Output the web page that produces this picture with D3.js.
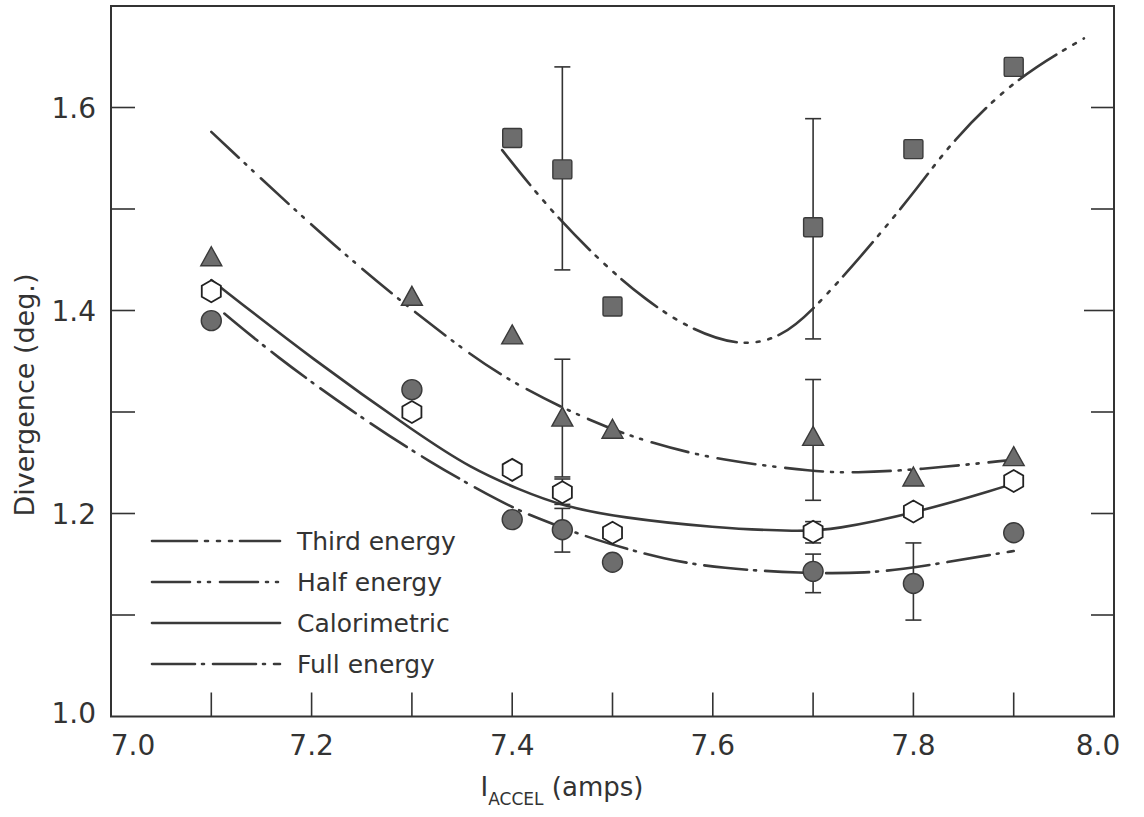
<!DOCTYPE html>
<html>
<head>
<meta charset="utf-8">
<script src="https://cdn.jsdelivr.net/npm/d3@7"></script>
<style>
	body { margin: 0; background: #fff; }
	text { font-family: 'DejaVu Sans', sans-serif; fill: #333; }
	.fit { fill: none; stroke: #3a3a3a; stroke-width: 2.6; stroke-linecap: round; }
	.err { stroke: #333; stroke-width: 1.6; }
</style>
</head>
<body>
<div id="svg"></div>
<script>
// values
var currents = [7.1, 7.3, 7.4, 7.45, 7.5, 7.7, 7.8, 7.9];
var thirdEnergy  = [null, null, 1.570, 1.539, 1.404, 1.482, 1.559, 1.640];
var halfEnergy   = [1.452, 1.413, 1.375, 1.294, 1.282, 1.275, 1.235, 1.255];
var calorimetric = [1.419, 1.300, 1.243, 1.221, 1.181, 1.182, 1.202, 1.232];
var fullEnergy   = [1.390, 1.322, 1.194, 1.184, 1.152, 1.143, 1.131, 1.181];

// error bars [x, low, high]
var thirdErr  = [[7.45, 1.440, 1.640], [7.7, 1.372, 1.589]];
var halfErr   = [[7.45, 1.236, 1.352], [7.7, 1.213, 1.332]];
var calorErr  = [[7.45, 1.209, 1.234], [7.7, 1.171, 1.192]];
var fullErr   = [[7.45, 1.162, 1.205], [7.7, 1.122, 1.160], [7.8, 1.095, 1.171]];

// hand drawn fit curves
var thirdFit = [[7.39,1.558],[7.435,1.502],[7.486,1.450],[7.533,1.410],[7.58,1.380],[7.63,1.364],
	[7.668,1.374],[7.697,1.397],[7.754,1.460],[7.807,1.524],[7.837,1.565],[7.9,1.628],[7.97,1.668]];
var halfFit = [[7.1,1.576],[7.225,1.460],[7.335,1.373],[7.395,1.331],[7.475,1.292],[7.535,1.270],
	[7.608,1.252],[7.705,1.241],[7.74,1.240],[7.804,1.243],[7.9,1.253]];
var calorFit = [[7.1,1.430],[7.202,1.351],[7.308,1.277],[7.358,1.245],[7.408,1.223],[7.451,1.207],
	[7.508,1.196],[7.6,1.186],[7.688,1.182],[7.72,1.184],[7.80,1.200],[7.887,1.225],[7.9,1.230]];
var fullFit = [[7.113,1.397],[7.163,1.356],[7.238,1.302],[7.318,1.250],[7.395,1.208],[7.421,1.197],
	[7.481,1.174],[7.555,1.154],[7.608,1.146],[7.688,1.141],[7.754,1.141],[7.804,1.147],[7.887,1.161],[7.9,1.163]];

var xLabels = [7.0, 7.2, 7.4, 7.6, 7.8, 8.0];
var yLabels = [1.0, 1.2, 1.4, 1.6];
var xMinor = [7.1, 7.2, 7.3, 7.4, 7.5, 7.6, 7.7, 7.8, 7.9];
var yMinor = [1.1, 1.2, 1.3, 1.4, 1.5, 1.6];

var legendNames = ['Third energy', 'Half energy', 'Calorimetric', 'Full energy'];
var dashes = ['45,8,3,9,3,9,3,8', '38,8,2,8,2,10', null, '43,7,2,9'];

var width = 1144, height = 817;
var svg = d3.select('#svg').append('svg').attr('width', width).attr('height', height);

var x = d3.scaleLinear().domain([7.0, 8.0]).range([111, 1114]);
var y = d3.scaleLinear().domain([1.0, 1.7]).range([716.5, 6]);

// frame
svg.append('rect')
	.attr('x', x(7.0)).attr('y', y(1.7))
	.attr('width', x(8.0) - x(7.0)).attr('height', y(1.0) - y(1.7))
	.style('fill', 'none').style('stroke', '#333').style('stroke-width', 2);

// inward ticks
svg.selectAll()
	.data(xMinor).enter()
	.append('line')
	.attr('x1', function(d) { return x(d) }).attr('x2', function(d) { return x(d) })
	.attr('y1', y(1.0)).attr('y2', y(1.0) - 24)
	.style('stroke', '#333').style('stroke-width', 1.6);

svg.selectAll()
	.data(yMinor).enter()
	.append('line')
	.attr('x1', x(7.0)).attr('x2', x(7.0) + 24)
	.attr('y1', function(d) { return y(d) }).attr('y2', function(d) { return y(d) })
	.style('stroke', '#333').style('stroke-width', 1.6);

svg.selectAll()
	.data(yMinor).enter()
	.append('line')
	.attr('x1', x(8.0)).attr('x2', function(d) { return x(8.0) - (d == 1.4 ? 30 : 23) })
	.attr('y1', function(d) { return y(d) }).attr('y2', function(d) { return y(d) })
	.style('stroke', '#333').style('stroke-width', 1.6);

// tick labels
svg.selectAll()
	.data(xLabels).enter()
	.append('text')
	.attr('x', function(d) { return x(d) + (d == 7.0 ? 22 : d == 8.0 ? -16 : 0) })
	.attr('y', 755)
	.attr('text-anchor', 'middle')
	.style('font-size', '28px')
	.text(function(d) { return d.toFixed(1) });

svg.selectAll()
	.data(yLabels).enter()
	.append('text')
	.attr('x', 96)
	.attr('y', function(d) { return y(d) + (d == 1.0 ? 6 : 10) })
	.attr('text-anchor', 'end')
	.style('font-size', '28px')
	.text(function(d) { return d.toFixed(1) });

// axis titles
var xt = svg.append('text')
	.attr('x', 562).attr('y', 796)
	.attr('text-anchor', 'middle')
	.style('font-size', '26px');
xt.append('tspan').text('I');
xt.append('tspan').attr('dy', 9).style('font-size', '17px').text('ACCEL');
xt.append('tspan').attr('dy', -9).text(' (amps)');

svg.append('text')
	.attr('transform', 'translate(34,395) rotate(-90)')
	.attr('text-anchor', 'middle')
	.style('font-size', '27px')
	.text('Divergence (deg.)');

// fit curves
var line = d3.line()
	.x(function(d) { return x(d[0]) })
	.y(function(d) { return y(d[1]) })
	.curve(d3.curveBasis);

var fits = [thirdFit, halfFit, calorFit, fullFit];
fits.forEach(function(f, i) {
	var p = svg.append('path').datum(f).attr('class', 'fit').attr('d', line);
	if (dashes[i]) p.style('stroke-dasharray', dashes[i]);
});

// error bars
var errs = [thirdErr, halfErr, calorErr, fullErr];
errs.forEach(function(e) {
	var g = svg.append('g');
	g.selectAll().data(e).enter().append('line').attr('class', 'err')
		.attr('x1', function(d) { return x(d[0]) }).attr('x2', function(d) { return x(d[0]) })
		.attr('y1', function(d) { return y(d[1]) }).attr('y2', function(d) { return y(d[2]) });
	[1, 2].forEach(function(k) {
		g.selectAll().data(e).enter().append('line').attr('class', 'err')
			.attr('x1', function(d) { return x(d[0]) - 8 }).attr('x2', function(d) { return x(d[0]) + 8 })
			.attr('y1', function(d) { return y(d[k]) }).attr('y2', function(d) { return y(d[k]) });
	});
});

// markers
function hexagon(r) {
	var pts = d3.range(6).map(function(i) {
		var a = Math.PI / 3 * i - Math.PI / 2;
		return [r * Math.cos(a), r * Math.sin(a)];
	});
	return 'M' + pts.join('L') + 'Z';
}

var pts = function(vals) {
	return currents.map(function(c, i) { return [c, vals[i]] })
		.filter(function(d) { return d[1] != null });
};

var markerFill = '#6d6d6d', markerStroke = '#3a3a3a';

svg.selectAll()
	.data(pts(thirdEnergy)).enter()
	.append('rect')
	.attr('x', function(d) { return x(d[0]) - 9.5 })
	.attr('y', function(d) { return y(d[1]) - 9.5 })
	.attr('width', 19).attr('height', 19).attr('rx', 1.5)
	.style('fill', markerFill).style('stroke', markerStroke).style('stroke-width', 1.4);

svg.selectAll()
	.data(pts(halfEnergy)).enter()
	.append('path')
	.attr('transform', function(d) { return 'translate(' + x(d[0]) + ',' + y(d[1]) + ')' })
	.attr('d', 'M0,-11L10.5,8L-10.5,8Z')
	.style('fill', markerFill).style('stroke', markerStroke).style('stroke-width', 1.4);

svg.selectAll()
	.data(pts(calorimetric)).enter()
	.append('path')
	.attr('transform', function(d) { return 'translate(' + x(d[0]) + ',' + y(d[1]) + ')' })
	.attr('d', hexagon(11))
	.style('fill', '#fff').style('stroke', '#222').style('stroke-width', 1.8);

svg.selectAll()
	.data(pts(fullEnergy)).enter()
	.append('circle')
	.attr('cx', function(d) { return x(d[0]) })
	.attr('cy', function(d) { return y(d[1]) })
	.attr('r', 10)
	.style('fill', markerFill).style('stroke', markerStroke).style('stroke-width', 1.4);

// legend
var leg = svg.selectAll()
	.data(legendNames).enter()
	.append('g')
	.attr('transform', function(d, i) { return 'translate(0,' + (541 + i * 41) + ')' });

leg.append('line')
	.attr('class', 'fit')
	.attr('x1', 152).attr('x2', 280)
	.style('stroke-dasharray', function(d, i) { return dashes[i] });

leg.append('text')
	.attr('x', 297).attr('y', 9)
	.style('font-size', '25px')
	.text(function(d) { return d });
</script>
</body>
</html>
